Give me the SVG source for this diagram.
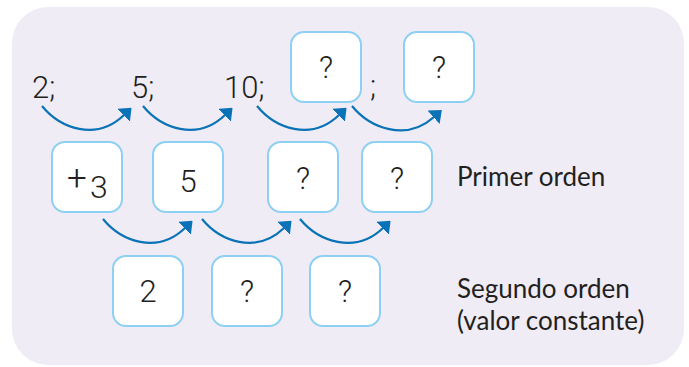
<svg xmlns="http://www.w3.org/2000/svg" width="689" height="367" viewBox="0 0 689 367">
<defs>
<style>
.bg{fill:#efecf6}
.box rect{fill:#ffffff;stroke:#8dd0f1;stroke-width:2}
.num{font-family:Roboto,"Liberation Sans",sans-serif;font-weight:300;font-size:31px;fill:#231f20}
.lbl{font-family:Lato,"Liberation Sans",sans-serif;font-size:26px;fill:#231f20}
.arc{fill:none;stroke:#0a72b6;stroke-width:2.2}
</style>
<marker id="ah" viewBox="0 0 11 18" refX="0.5" refY="9" markerWidth="11" markerHeight="18" markerUnits="userSpaceOnUse" orient="auto">
<path d="M0,0 L11,9 L0,18 Z" fill="#0a72b6"/>
</marker>
</defs>
<rect class="bg" x="12" y="7" width="672" height="358" rx="36"/>

<g id="seq-2"><text class="num" x="32" y="98">2;</text></g>
<g id="seq-5"><text class="num" x="131" y="98">5;</text></g>
<g id="seq-10"><text class="num" x="224" y="98">10;</text></g>
<g id="seq-q1" class="box"><rect x="291" y="32" width="70" height="70" rx="13"/><text class="num" x="326" y="78" text-anchor="middle">?</text></g>
<g id="seq-sep"><text class="num" x="370" y="97">;</text></g>
<g id="seq-q2" class="box"><rect x="404" y="32" width="70" height="70" rx="13"/><text class="num" x="439" y="78" text-anchor="middle">?</text></g>

<g id="p1" class="box"><rect x="52" y="142" width="70" height="70" rx="13"/><text class="num" x="67" y="190" style="font-size:35px">+</text><text class="num" x="90" y="198" style="font-size:32px">3</text></g>
<g id="p2" class="box"><rect x="153" y="142" width="70" height="70" rx="13"/><text class="num" x="188" y="192" text-anchor="middle">5</text></g>
<g id="p3" class="box"><rect x="268" y="142" width="70" height="70" rx="13"/><text class="num" x="303" y="189" text-anchor="middle">?</text></g>
<g id="p4" class="box"><rect x="362" y="142" width="70" height="70" rx="13"/><text class="num" x="397" y="189" text-anchor="middle">?</text></g>
<g id="label-primer"><text class="lbl" x="457" y="186">Primer orden</text></g>

<g id="s1" class="box"><rect x="113" y="256" width="70" height="70" rx="13"/><text class="num" x="148" y="302" text-anchor="middle">2</text></g>
<g id="s2" class="box"><rect x="212" y="256" width="70" height="70" rx="13"/><text class="num" x="247" y="302" text-anchor="middle">?</text></g>
<g id="s3" class="box"><rect x="310" y="256" width="70" height="70" rx="13"/><text class="num" x="345" y="302" text-anchor="middle">?</text></g>
<g id="label-segundo"><text class="lbl" x="457" y="298">Segundo orden</text><text class="lbl" x="457" y="330">(valor constante)</text></g>

<g id="connectors">
<path class="arc" d="M42,106 C60,128 96,142 124,115" marker-end="url(#ah)"/>
<path class="arc" d="M143,106 C161,128 197,142 225,115" marker-end="url(#ah)"/>
<path class="arc" d="M257,106 C275,128 311,142 339,115" marker-end="url(#ah)"/>
<path class="arc" d="M352,106 C370,128 406,142 434,117" marker-end="url(#ah)"/>
<path class="arc" d="M103,219 C121,241 157,255 185,228" marker-end="url(#ah)"/>
<path class="arc" d="M202,219 C220,241 256,255 284,228" marker-end="url(#ah)"/>
<path class="arc" d="M300,219 C318,241 355,255 383,228" marker-end="url(#ah)"/>
</g>
</svg>
